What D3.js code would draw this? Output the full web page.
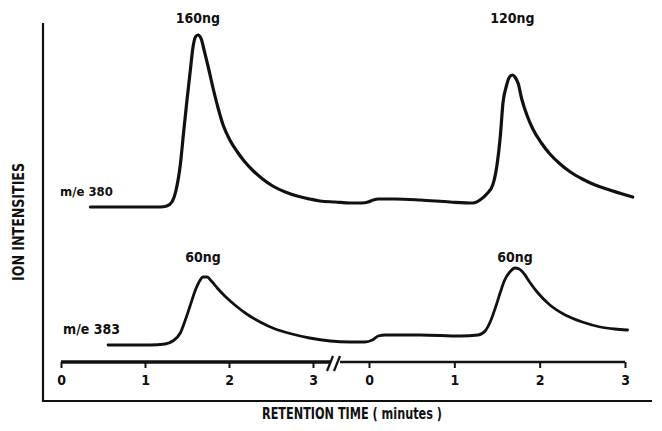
<!DOCTYPE html>
<html>
<head>
<meta charset="utf-8">
<script src="https://cdn.jsdelivr.net/npm/d3@7"></script>
<style>
  body { margin: 0; background: #fff; }
  text { font-family: "DejaVu Sans Condensed", "DejaVu Sans", sans-serif; font-weight: bold; fill: #111; }
</style>
</head>
<body>
<svg id="chart" width="662" height="431"></svg>
<script>
// tick labels on each of the two runs (minutes)
const tickMinutes = [0, 1, 2, 3];
// second run starts here on the continuous plotting axis
const runOffset = 3.65;

// m/e 380 trace: elapsed time (min) and ion intensity (arbitrary units)
const time380 = [0.35, 0.82, 1.18, 1.26, 1.32, 1.37, 1.42, 1.46, 1.50, 1.54, 1.57, 1.60, 1.63, 1.67, 1.70, 1.75,
  1.81, 1.87, 1.93, 2.01, 2.10, 2.19, 2.29, 2.40, 2.52, 2.67, 2.81, 2.96, 3.08, 3.26, 3.43, 3.57, 3.64, 3.70,
  3.76, 3.95, 4.25, 4.60, 4.87, 4.95, 5.03, 5.10, 5.15, 5.19, 5.22, 5.26, 5.29, 5.33, 5.36, 5.40, 5.44, 5.50,
  5.57, 5.67, 5.77, 5.89, 6.01, 6.15, 6.30, 6.47, 6.62, 6.74];
const ion380 = [155, 155, 155, 156, 160, 172, 197, 230, 262, 292, 314, 325, 327, 323, 313, 296,
  274, 254, 237, 222, 210, 200, 191, 183, 176, 170, 166, 163, 161, 160, 159, 159, 160, 162,
  163, 163, 162, 160, 159, 162, 168, 177, 197, 227, 259, 276, 284, 287, 285, 278, 263, 247,
  233, 219, 208, 198, 190, 183, 177, 172, 168, 165];

// m/e 383 trace
const time383 = [0.56, 0.82, 1.06, 1.24, 1.33, 1.42, 1.48, 1.54, 1.60, 1.65, 1.69, 1.74, 1.79, 1.86, 1.95, 2.07,
  2.21, 2.37, 2.55, 2.75, 2.96, 3.20, 3.43, 3.60, 3.69, 3.76, 3.84, 4.25, 4.72, 4.93, 5.01, 5.07, 5.13, 5.19,
  5.24, 5.30, 5.36, 5.41, 5.47, 5.54, 5.63, 5.77, 5.95, 6.15, 6.36, 6.53, 6.68];
const ion383 = [17, 17, 17, 18, 21, 29, 42, 57, 72, 81, 85, 85, 81, 74, 66, 57,
  48, 40, 33, 28, 24, 21, 20, 20, 22, 26, 27, 27, 26, 27, 31, 40, 54, 70,
  82, 90, 94, 93, 88, 79, 69, 57, 47, 40, 35, 33, 32];

const amounts380 = ["160ng", "120ng"];
const amounts383 = ["60ng", "60ng"];
const traceNames = ["m/e 380", "m/e 383"];

const svg = d3.select('#chart');

const x = d3.scaleLinear()
  .domain([0, 3, runOffset, runOffset + 3])
  .range([61, 313, 369, 625]);
const xRun1 = d3.scaleLinear().domain([0, 3]).range([x(0), x(3)]);
const xRun2 = d3.scaleLinear().domain([0, 3]).range([x(runOffset), x(runOffset + 3)]);
const y = d3.scaleLinear().domain([0, 340]).range([362, 22]);

// frame
svg.append('path')
  .attr('d', 'M43,23 V401 H652')
  .attr('fill', 'none')
  .attr('stroke', '#111')
  .attr('stroke-width', 2.2);

// axis titles (squeezed to the narrow typewriter-ish face of the scan)
svg.append('text')
  .attr('x', 352).attr('y', 419)
  .attr('text-anchor', 'middle')
  .attr('textLength', 180)
  .attr('lengthAdjust', 'spacingAndGlyphs')
  .style('font-size', '15px')
  .text('RETENTION TIME ( minutes )');

svg.append('text')
  .attr('transform', 'translate(24,222) rotate(-90)')
  .attr('text-anchor', 'middle')
  .attr('textLength', 118)
  .attr('lengthAdjust', 'spacingAndGlyphs')
  .style('font-size', '15px')
  .text('ION INTENSITIES');

// time axis, two runs with a break
const axisY = 362;
const drawRun = function(scale, width, x0, x1) {
  const ax = svg.append('g')
    .attr('transform', `translate(0,${axisY})`)
    .call(d3.axisBottom(scale).tickValues(tickMinutes).tickSize(6).tickFormat(d3.format('d')));
  ax.select('.domain').remove();
  ax.selectAll('.tick line').attr('stroke', '#111').attr('stroke-width', 2);
  ax.selectAll('.tick text')
    .attr('y', 13)
    .style('font-size', '14px')
    .style('font-family', '"DejaVu Sans Condensed", sans-serif')
    .style('font-weight', 'bold')
    .attr('fill', '#111');
  svg.append('line')
    .attr('x1', x0).attr('x2', x1)
    .attr('y1', axisY).attr('y2', axisY)
    .attr('stroke', '#111')
    .attr('stroke-width', width);
};
drawRun(xRun1, 3.5, xRun1(0), 331);
drawRun(xRun2, 2.5, 340, xRun2(3));

[0, 7].forEach(dx => {
  svg.append('line')
    .attr('x1', 327 + dx).attr('y1', 371)
    .attr('x2', 333 + dx).attr('y2', 356)
    .attr('stroke', '#111')
    .attr('stroke-width', 2.2);
});

// traces
const line = d3.line()
  .x(d => x(d[0]))
  .y(d => y(d[1]))
  .curve(d3.curveMonotoneX);

const traces = [
  { t: time380, v: ion380, amounts: amounts380, labelY: 23, width: 3.2 },
  { t: time383, v: ion383, amounts: amounts383, labelY: 262, width: 2.8 }
];

traces.forEach((tr, k) => {
  const pts = tr.t.map((t, i) => [t, tr.v[i]]);
  svg.append('path')
    .datum(pts)
    .attr('d', line)
    .attr('fill', 'none')
    .attr('stroke', '#111')
    .attr('stroke-width', tr.width)
    .attr('stroke-linejoin', 'round')
    .attr('stroke-linecap', 'round');

  // amount label above each run's peak
  [pts.filter(p => p[0] < runOffset), pts.filter(p => p[0] >= runOffset)].forEach((run, j) => {
    const peak = run.reduce((a, b) => b[1] > a[1] ? b : a);
    svg.append('text')
      .attr('x', x(peak[0]))
      .attr('y', tr.labelY)
      .attr('text-anchor', 'middle')
      .style('font-size', '14px')
      .text(tr.amounts[j]);
  });

  svg.append('text')
    .attr('x', k === 0 ? 60 : 63)
    .attr('y', y(pts[0][1]) - 11)
    .style('font-size', k === 0 ? '13px' : '14px')
    .text(traceNames[k]);
});
</script>
</body>
</html>
